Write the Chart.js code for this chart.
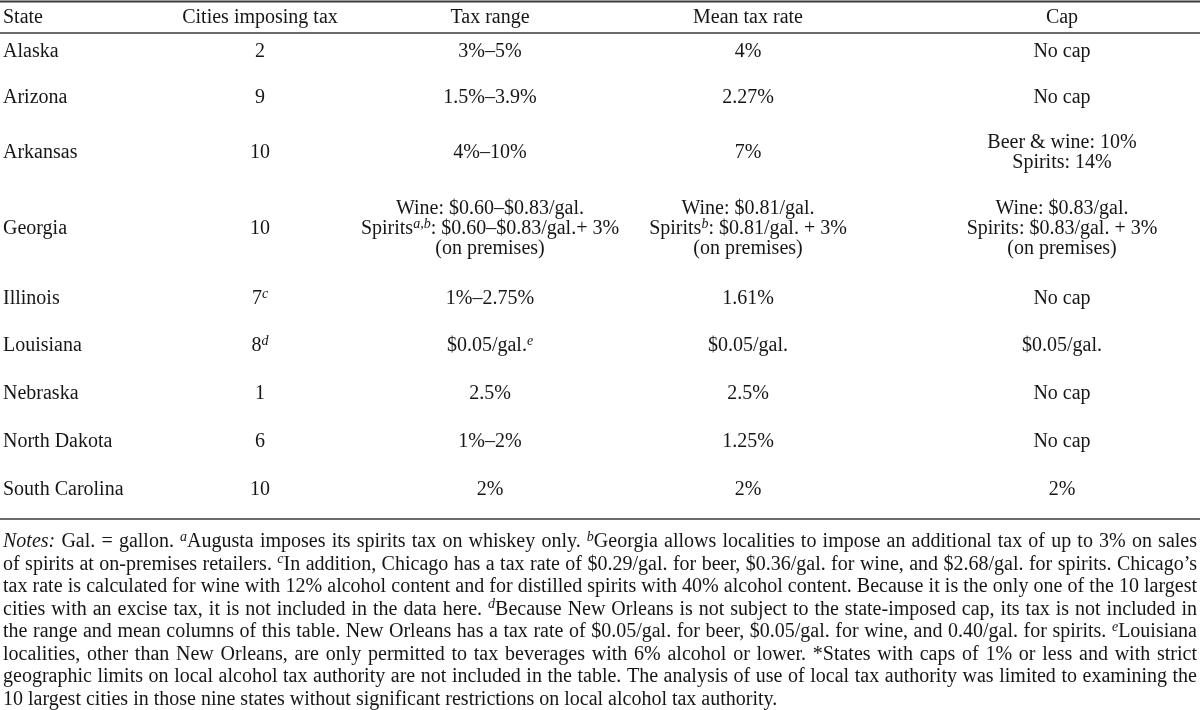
<!DOCTYPE html>
<html>
<head>
<meta charset="utf-8">
<script src="https://cdn.jsdelivr.net/npm/chart.js@4/dist/chart.umd.min.js"></script>
<style>
  html, body { margin: 0; padding: 0; background: #fff; }
  #wrap { width: 1200px; height: 710px; position: relative; }
</style>
</head>
<body>
<div id="wrap"><canvas id="tbl"></canvas></div>
<script>
// table content ({x} = italic superscript, [x] = italic)
const headers = ['State', 'Cities imposing tax', 'Tax range', 'Mean tax rate', 'Cap']
const states = ['Alaska', 'Arizona', 'Arkansas', 'Georgia', 'Illinois', 'Louisiana', 'Nebraska', 'North Dakota', 'South Carolina']
const cities = ['2', '9', '10', '10', '7{c}', '8{d}', '1', '6', '10']
const taxRange = [
  ['3%–5%'],
  ['1.5%–3.9%'],
  ['4%–10%'],
  ['Wine: $0.60–$0.83/gal.', 'Spirits{a,b}: $0.60–$0.83/gal.+ 3%', '(on premises)'],
  ['1%–2.75%'],
  ['$0.05/gal.{e}'],
  ['2.5%'],
  ['1%–2%'],
  ['2%']
]
const meanRate = [
  ['4%'],
  ['2.27%'],
  ['7%'],
  ['Wine: $0.81/gal.', 'Spirits{b}: $0.81/gal. + 3%', '(on premises)'],
  ['1.61%'],
  ['$0.05/gal.'],
  ['2.5%'],
  ['1.25%'],
  ['2%']
]
const cap = [
  ['No cap'],
  ['No cap'],
  ['Beer & wine: 10%', 'Spirits: 14%'],
  ['Wine: $0.83/gal.', 'Spirits: $0.83/gal. + 3%', '(on premises)'],
  ['No cap'],
  ['$0.05/gal.'],
  ['No cap'],
  ['No cap'],
  ['2%']
]
const notes = [
  '[Notes:] Gal. = gallon. {a}Augusta imposes its spirits tax on whiskey only. {b}Georgia allows localities to impose an additional tax of up to 3% on sales',
  'of spirits at on-premises retailers. {c}In addition, Chicago has a tax rate of $0.29/gal. for beer, $0.36/gal. for wine, and $2.68/gal. for spirits. Chicago’s',
  'tax rate is calculated for wine with 12% alcohol content and for distilled spirits with 40% alcohol content. Because it is the only one of the 10 largest',
  'cities with an excise tax, it is not included in the data here. {d}Because New Orleans is not subject to the state-imposed cap, its tax is not included in',
  'the range and mean columns of this table. New Orleans has a tax rate of $0.05/gal. for beer, $0.05/gal. for wine, and 0.40/gal. for spirits. {e}Louisiana',
  'localities, other than New Orleans, are only permitted to tax beverages with 6% alcohol or lower. *States with caps of 1% or less and with strict',
  'geographic limits on local alcohol tax authority are not included in the table. The analysis of use of local tax authority was limited to examining the',
  '10 largest cities in those nine states without significant restrictions on local alcohol tax authority.'
]

// layout (in scale units = px)
const colX = [3, 260, 490, 748, 1062]
const headerY = 17
const rowY = [51, 97, 152, 228, 298, 345, 393, 441, 489]
const rules = [{ y: 1.5, w: 2 }, { y: 33, w: 1.5 }, { y: 519, w: 1.5 }]
const noteY0 = 541, noteStep = 22.5, noteLeft = 3, noteRight = 1197
const LINE = 20
const SIZE = 20
const FONT = '"Liberation Serif", "Times New Roman", serif'
const INK = '#161616'

function parse(str) {
  const segs = []
  const re = /\{([^}]*)\}|\[([^\]]*)\]|([^{\[]+)/g
  let m
  while ((m = re.exec(str))) {
    if (m[1] !== undefined) segs.push({ t: m[1], k: 's' })
    else if (m[2] !== undefined) segs.push({ t: m[2], k: 'i' })
    else segs.push({ t: m[3], k: 'n' })
  }
  return segs
}
function fontFor(k) {
  if (k === 's') return 'italic ' + Math.round(SIZE * 0.68) + 'px ' + FONT
  if (k === 'i') return 'italic ' + SIZE + 'px ' + FONT
  return SIZE + 'px ' + FONT
}
function widthOf(ctx, segs) {
  let w = 0
  segs.forEach(s => { ctx.font = fontFor(s.k); w += ctx.measureText(s.t).width })
  return w
}
function drawSegs(ctx, segs, x, y) {
  segs.forEach(s => {
    ctx.font = fontFor(s.k)
    ctx.fillText(s.t, x, s.k === 's' ? y - SIZE * 0.34 : y)
    x += ctx.measureText(s.t).width
  })
}
// y given as visual middle of the text line
function drawText(ctx, str, x, y, align) {
  const segs = parse(str)
  const w = widthOf(ctx, segs)
  const x0 = align === 'center' ? x - w / 2 : x
  drawSegs(ctx, segs, x0, y + SIZE * 0.32)
}
function drawJustified(ctx, str, left, right, y, last) {
  const words = str.split(' ').map(parse)
  const widths = words.map(w => widthOf(ctx, w))
  const total = widths.reduce((a, b) => a + b, 0)
  ctx.font = fontFor('n')
  const gap = last || words.length < 2 ? ctx.measureText(' ').width : (right - left - total) / (words.length - 1)
  let x = left
  words.forEach((w, i) => {
    drawSegs(ctx, w, x, y + SIZE * 0.32)
    x += widths[i] + gap
  })
}

const tablePlugin = {
  id: 'tablePlugin',
  afterDraw(chart) {
    const ctx = chart.ctx
    const sx = chart.scales.x, sy = chart.scales.y
    const px = v => sx.getPixelForValue(v)
    const py = v => sy.getPixelForValue(v)
    ctx.save()
    ctx.fillStyle = '#fff'
    ctx.fillRect(0, 0, chart.width, chart.height)

    ctx.strokeStyle = '#3a3a3a'
    rules.forEach(r => {
      ctx.lineWidth = r.w
      ctx.beginPath()
      ctx.moveTo(px(0), py(r.y))
      ctx.lineTo(px(1200), py(r.y))
      ctx.stroke()
    })

    ctx.fillStyle = INK
    ctx.textAlign = 'left'
    ctx.textBaseline = 'alphabetic'
    headers.forEach((h, c) => drawText(ctx, h, px(colX[c]), py(headerY), c === 0 ? 'left' : 'center'))

    const cols = [states.map(s => [s]), cities.map(s => [s]), taxRange, meanRate, cap]
    cols.forEach((col, c) => {
      col.forEach((lines, r) => {
        lines.forEach((ln, i) => {
          const yv = rowY[r] + (i - (lines.length - 1) / 2) * LINE
          drawText(ctx, ln, px(colX[c]), py(yv), c === 0 ? 'left' : 'center')
        })
      })
    })

    notes.forEach((ln, i) => {
      drawJustified(ctx, ln, px(noteLeft), px(noteRight), py(noteY0 + i * noteStep), i === notes.length - 1)
    })
    ctx.restore()
  }
}

new Chart(document.getElementById('tbl'), {
  type: 'scatter',
  data: { datasets: [{ data: [], pointRadius: 0 }] },
  options: {
    responsive: true,
    maintainAspectRatio: false,
    animation: false,
    layout: { padding: 0 },
    plugins: { legend: { display: false }, tooltip: { enabled: false } },
    scales: {
      x: { type: 'linear', min: 0, max: 1200, display: false },
      y: { type: 'linear', min: 0, max: 710, reverse: true, display: false }
    }
  },
  plugins: [tablePlugin]
})
</script>
</body>
</html>
